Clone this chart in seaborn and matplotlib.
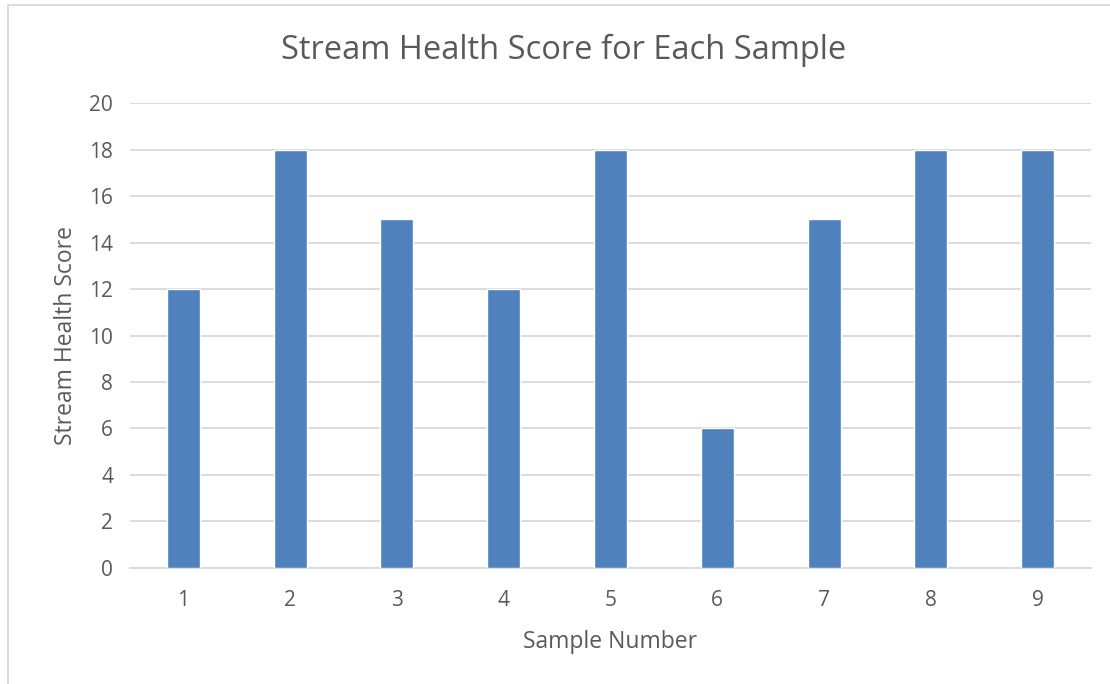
import matplotlib
matplotlib.use("Agg")
import matplotlib.pyplot as plt
import seaborn as sns
import pandas as pd

samples = ['1', '2', '3', '4', '5', '6', '7', '8', '9']
scores = [12, 18, 15, 12, 18, 6, 15, 18, 18]

sns.set_style("white")
plt.rcParams['font.family'] = ['Open Sans', 'DejaVu Sans']
txt = '#595959'

df = pd.DataFrame({'Sample Number': samples, 'Stream Health Score': scores})

fig = plt.figure(figsize=(11.1, 6.84), dpi=100)
ax = fig.add_axes([0.117, 0.170, 0.866, 0.679])
sns.barplot(data=df, x='Sample Number', y='Stream Health Score', color='#4F81BD',
            saturation=1, width=0.31, ax=ax, zorder=3)

ax.set_ylim(0, 20)
ax.set_yticks(range(0, 21, 2))
ax.set_xlim(-0.5, 8.5)
ax.grid(axis='y', color='#D9D9D9', linewidth=1.3, zorder=0)
for s in ['top', 'right', 'left']:
    ax.spines[s].set_visible(False)
ax.spines['bottom'].set_color('#D9D9D9')
ax.spines['bottom'].set_linewidth(1.3)
ax.tick_params(axis='both', length=0, labelsize=15, labelcolor=txt)
ax.tick_params(axis='x', pad=16)
ax.tick_params(axis='y', pad=12)
ax.set_xlabel('Sample Number', fontsize=16.5, color=txt, labelpad=14)
ax.set_ylabel('Stream Health Score', fontsize=16.5, color=txt, labelpad=8)
fig.text(0.508, 0.927, 'Stream Health Score for Each Sample', ha='center', va='center',
         fontsize=23.5, color=txt)

# thin chart border like the source
fig.add_artist(plt.Line2D([8 / 1110, 1], [1 - 5 / 684, 1 - 5 / 684], color='#D9D9D9', lw=1.3))
fig.add_artist(plt.Line2D([8 / 1110, 8 / 1110], [0, 1 - 5 / 684], color='#D9D9D9', lw=1.3))

fig.savefig('out.png', dpi=100)
